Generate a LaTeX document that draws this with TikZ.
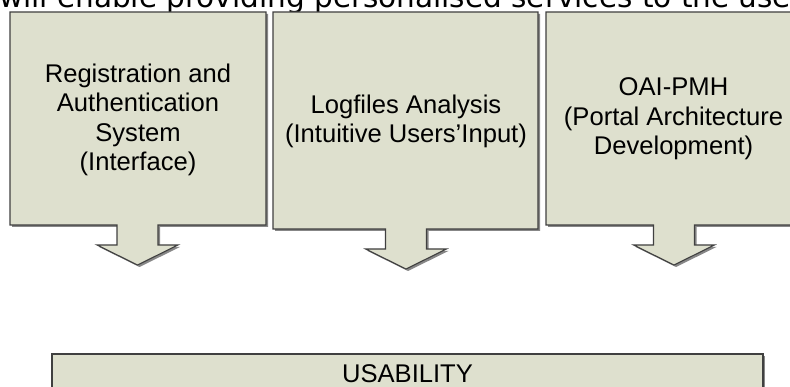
\documentclass[tikz,border=0pt]{standalone}
\usepackage{fontspec}
\setmainfont{Liberation Sans}
\newfontfamily\titlefont{DejaVu Sans}

\definecolor{boxfill}{RGB}{222,224,206}
\definecolor{boxline}{RGB}{64,64,64}
\definecolor{boxshade}{RGB}{135,135,135}

% Outline of a box with a downward arrow below it:
% #1 left, #2 right, #3 top, #4 body bottom, #5 arrow axis, #6 shaft bottom, #7 tip
\newcommand\dnarrowpath[7]{(#1,#3) -- (#2,#3) -- (#2,#4) -- (#5+20.5,#4) -- (#5+20.5,#6)
  -- (#5+40.5,#6) -- (#5,#7) -- (#5-40.5,#6) -- (#5-20.5,#6) -- (#5-20.5,#4)
  -- (#1,#4) -- cycle}

\tikzset{
  shadowfill/.style={fill=boxshade, shift={(2,2)}},
  boxshape/.style={fill=boxfill, draw=boxline, line width=1.1pt, line join=miter},
  boxtext/.style={align=center, inner sep=0pt, text=black,
    font=\fontsize{25.6}{29.5}\selectfont},
  headline/.style={anchor=base west, inner sep=0pt, text=black,
    font=\titlefont\fontsize{29.5}{34}\selectfont}
}

\begin{document}
\begin{tikzpicture}[x=1pt,y=-1pt]
\useasboundingbox (0,0) rectangle (790,387);
\begin{scope}
\clip (0,0) rectangle (790,387);

% heading line, cut by the top edge
\node[headline] (head) at (-1,7.5) {will enable providing personalised services to the user};

% three input boxes, each with an arrow pointing down
\fill[shadowfill] \dnarrowpath{10}{266}{12}{225}{137.5}{245}{265};
\draw[boxshape]   \dnarrowpath{10}{266}{12}{225}{137.5}{245}{265};

\fill[shadowfill] \dnarrowpath{273}{538}{12}{229}{406}{249}{269};
\draw[boxshape]   \dnarrowpath{273}{538}{12}{229}{406}{249}{269};

\fill[shadowfill] \dnarrowpath{546}{802}{12}{225}{674}{245}{265};
\draw[boxshape]   \dnarrowpath{546}{802}{12}{225}{674}{245}{265};

\node[boxtext] (reg) at (138,120) {Registration and\\Authentication\\System\\(Interface)};
\node[boxtext] (log) at (406,121.4) {Logfiles Analysis\\(Intuitive Users’Input)};
\node[boxtext] (oai) at (673.5,119) {OAI-PMH\\(Portal Architecture\\Development)};

% target box
\fill[shadowfill] (52,354) rectangle (763,420);
\draw[boxshape]   (52,354) rectangle (763,420);
\node[boxtext, anchor=base] (usab) at (407.5,382) {USABILITY};
\end{scope}
\end{tikzpicture}
\end{document}
